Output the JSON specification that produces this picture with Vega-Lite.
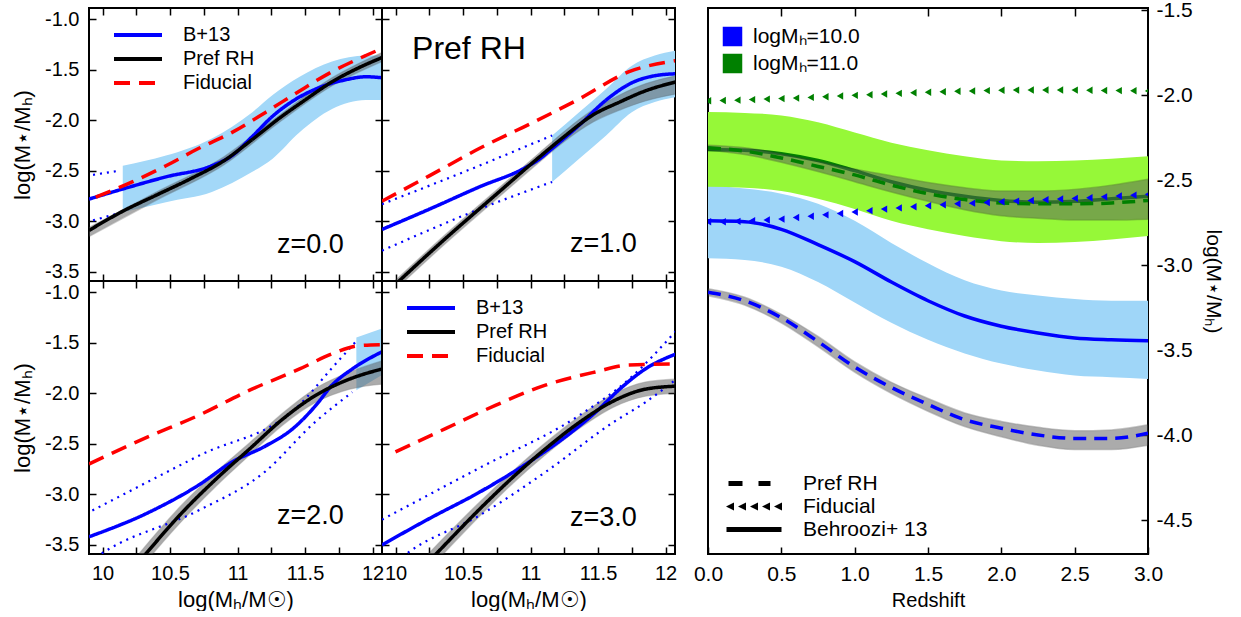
{
  "$schema": "https://vega.github.io/schema/vega-lite/v6.json",
  "padding": {"left": 10, "top": -2, "right": 0, "bottom": 0},
  "config": {
    "font": "Liberation Sans",
    "view": {"stroke": "#000", "strokeWidth": 2},
    "axis": {"domain": false, "grid": false, "ticks": true, "tickColor": "#000", "tickWidth": 1.5, "tickSize": -7, "labelPadding": 17, "labelFontSize": 20, "labelColor": "#000", "titleFontSize": 22, "titleColor": "#000", "titleFontWeight": "normal", "labelFlush": false, "labelOverlap": false},
    "legend": {"labelFontSize": 20, "labelColor": "#000", "symbolOpacity": 1}
  },
  "datasets": {
    "lines": [
      {"p":"z0","s":"B+13","x":9.9,"y":-2.78},{"p":"z0","s":"B+13","x":10.15,"y":-2.68},{"p":"z0","s":"B+13","x":10.47,"y":-2.56},{"p":"z0","s":"B+13","x":10.81,"y":-2.45},{"p":"z0","s":"B+13","x":10.96,"y":-2.35},{"p":"z0","s":"B+13","x":11.11,"y":-2.16},{"p":"z0","s":"B+13","x":11.26,"y":-1.96},{"p":"z0","s":"B+13","x":11.41,"y":-1.81},{"p":"z0","s":"B+13","x":11.6,"y":-1.68},{"p":"z0","s":"B+13","x":11.8,"y":-1.6},{"p":"z0","s":"B+13","x":11.95,"y":-1.57},{"p":"z0","s":"B+13","x":12.07,"y":-1.58},
      {"p":"z0","s":"Pref RH","x":9.9,"y":-3.09},{"p":"z0","s":"Pref RH","x":10.15,"y":-2.9},{"p":"z0","s":"Pref RH","x":10.4,"y":-2.74},{"p":"z0","s":"Pref RH","x":10.65,"y":-2.58},{"p":"z0","s":"Pref RH","x":10.9,"y":-2.4},{"p":"z0","s":"Pref RH","x":11.1,"y":-2.2},{"p":"z0","s":"Pref RH","x":11.3,"y":-1.99},{"p":"z0","s":"Pref RH","x":11.5,"y":-1.8},{"p":"z0","s":"Pref RH","x":11.7,"y":-1.62},{"p":"z0","s":"Pref RH","x":11.9,"y":-1.48},{"p":"z0","s":"Pref RH","x":12.07,"y":-1.38},
      {"p":"z0","s":"Fiducial","x":9.95,"y":-2.76},{"p":"z0","s":"Fiducial","x":10.22,"y":-2.61},{"p":"z0","s":"Fiducial","x":10.47,"y":-2.45},{"p":"z0","s":"Fiducial","x":10.71,"y":-2.28},{"p":"z0","s":"Fiducial","x":10.96,"y":-2.12},{"p":"z0","s":"Fiducial","x":11.21,"y":-1.92},{"p":"z0","s":"Fiducial","x":11.46,"y":-1.71},{"p":"z0","s":"Fiducial","x":11.7,"y":-1.52},{"p":"z0","s":"Fiducial","x":11.95,"y":-1.36},{"p":"z0","s":"Fiducial","x":12.07,"y":-1.29},
      {"p":"z1","s":"B+13","x":9.9,"y":-3.08},{"p":"z1","s":"B+13","x":10.25,"y":-2.88},{"p":"z1","s":"B+13","x":10.62,"y":-2.66},{"p":"z1","s":"B+13","x":10.96,"y":-2.47},{"p":"z1","s":"B+13","x":11.06,"y":-2.39},{"p":"z1","s":"B+13","x":11.16,"y":-2.28},{"p":"z1","s":"B+13","x":11.36,"y":-2.05},{"p":"z1","s":"B+13","x":11.56,"y":-1.8},{"p":"z1","s":"B+13","x":11.75,"y":-1.63},{"p":"z1","s":"B+13","x":11.92,"y":-1.56},{"p":"z1","s":"B+13","x":12.08,"y":-1.54},
      {"p":"z1","s":"Pref RH","x":9.97,"y":-3.66},{"p":"z1","s":"Pref RH","x":10.37,"y":-3.17},{"p":"z1","s":"Pref RH","x":10.74,"y":-2.74},{"p":"z1","s":"Pref RH","x":11.06,"y":-2.37},{"p":"z1","s":"Pref RH","x":11.26,"y":-2.15},{"p":"z1","s":"Pref RH","x":11.46,"y":-1.95},{"p":"z1","s":"Pref RH","x":11.66,"y":-1.82},{"p":"z1","s":"Pref RH","x":11.85,"y":-1.71},{"p":"z1","s":"Pref RH","x":12.08,"y":-1.62},
      {"p":"z1","s":"Fiducial","x":9.9,"y":-2.8},{"p":"z1","s":"Fiducial","x":10.25,"y":-2.55},{"p":"z1","s":"Fiducial","x":10.62,"y":-2.28},{"p":"z1","s":"Fiducial","x":10.99,"y":-2.04},{"p":"z1","s":"Fiducial","x":11.36,"y":-1.79},{"p":"z1","s":"Fiducial","x":11.73,"y":-1.52},{"p":"z1","s":"Fiducial","x":12.08,"y":-1.41},
      {"p":"z2","s":"B+13","x":9.9,"y":-3.42},{"p":"z2","s":"B+13","x":10.34,"y":-3.18},{"p":"z2","s":"B+13","x":10.71,"y":-2.91},{"p":"z2","s":"B+13","x":10.96,"y":-2.68},{"p":"z2","s":"B+13","x":11.21,"y":-2.52},{"p":"z2","s":"B+13","x":11.41,"y":-2.35},{"p":"z2","s":"B+13","x":11.58,"y":-2.12},{"p":"z2","s":"B+13","x":11.7,"y":-1.92},{"p":"z2","s":"B+13","x":11.85,"y":-1.76},{"p":"z2","s":"B+13","x":12.07,"y":-1.59},
      {"p":"z2","s":"Pref RH","x":10.25,"y":-3.7},{"p":"z2","s":"Pref RH","x":10.32,"y":-3.59},{"p":"z2","s":"Pref RH","x":10.59,"y":-3.18},{"p":"z2","s":"Pref RH","x":10.84,"y":-2.85},{"p":"z2","s":"Pref RH","x":11.09,"y":-2.55},{"p":"z2","s":"Pref RH","x":11.34,"y":-2.25},{"p":"z2","s":"Pref RH","x":11.58,"y":-2.02},{"p":"z2","s":"Pref RH","x":11.83,"y":-1.86},{"p":"z2","s":"Pref RH","x":12.07,"y":-1.76},
      {"p":"z2","s":"Fiducial","x":9.9,"y":-2.7},{"p":"z2","s":"Fiducial","x":10.34,"y":-2.43},{"p":"z2","s":"Fiducial","x":10.71,"y":-2.22},{"p":"z2","s":"Fiducial","x":11.09,"y":-1.97},{"p":"z2","s":"Fiducial","x":11.46,"y":-1.76},{"p":"z2","s":"Fiducial","x":11.7,"y":-1.61},{"p":"z2","s":"Fiducial","x":11.9,"y":-1.53},{"p":"z2","s":"Fiducial","x":12.07,"y":-1.52},
      {"p":"z3","s":"B+13","x":9.9,"y":-3.5},{"p":"z3","s":"B+13","x":10.25,"y":-3.24},{"p":"z3","s":"B+13","x":10.62,"y":-2.98},{"p":"z3","s":"B+13","x":10.99,"y":-2.68},{"p":"z3","s":"B+13","x":11.24,"y":-2.45},{"p":"z3","s":"B+13","x":11.48,"y":-2.19},{"p":"z3","s":"B+13","x":11.66,"y":-1.96},{"p":"z3","s":"B+13","x":11.85,"y":-1.76},{"p":"z3","s":"B+13","x":12.08,"y":-1.61},
      {"p":"z3","s":"Pref RH","x":10.22,"y":-3.7},{"p":"z3","s":"Pref RH","x":10.3,"y":-3.59},{"p":"z3","s":"Pref RH","x":10.62,"y":-3.15},{"p":"z3","s":"Pref RH","x":10.87,"y":-2.83},{"p":"z3","s":"Pref RH","x":11.11,"y":-2.55},{"p":"z3","s":"Pref RH","x":11.36,"y":-2.29},{"p":"z3","s":"Pref RH","x":11.61,"y":-2.08},{"p":"z3","s":"Pref RH","x":11.85,"y":-1.96},{"p":"z3","s":"Pref RH","x":12.08,"y":-1.93},
      {"p":"z3","s":"Fiducial","x":10.0,"y":-2.58},{"p":"z3","s":"Fiducial","x":10.37,"y":-2.35},{"p":"z3","s":"Fiducial","x":10.74,"y":-2.12},{"p":"z3","s":"Fiducial","x":11.11,"y":-1.92},{"p":"z3","s":"Fiducial","x":11.48,"y":-1.79},{"p":"z3","s":"Fiducial","x":11.73,"y":-1.72},{"p":"z3","s":"Fiducial","x":12.08,"y":-1.71}
    ],
    "dots": [
      {"p":"z0","s":"hi","x":9.93,"y":-2.54},{"p":"z0","s":"hi","x":10.12,"y":-2.5},
      {"p":"z0","s":"lo","x":9.93,"y":-2.99},{"p":"z0","s":"lo","x":10.12,"y":-2.92},
      {"p":"z1","s":"hi","x":9.9,"y":-2.83},{"p":"z1","s":"hi","x":10.62,"y":-2.45},{"p":"z1","s":"hi","x":11.16,"y":-2.15},
      {"p":"z1","s":"lo","x":9.9,"y":-3.29},{"p":"z1","s":"lo","x":10.62,"y":-2.88},{"p":"z1","s":"lo","x":11.16,"y":-2.61},
      {"p":"z2","s":"hi","x":9.925,"y":-3.16},{"p":"z2","s":"hi","x":10.71,"y":-2.62},{"p":"z2","s":"hi","x":11.456,"y":-2.12},{"p":"z2","s":"hi","x":11.7,"y":-1.75},{"p":"z2","s":"hi","x":11.876,"y":-1.49},
      {"p":"z2","s":"lo","x":9.95,"y":-3.62},{"p":"z2","s":"lo","x":10.048,"y":-3.54},{"p":"z2","s":"lo","x":10.71,"y":-3.16},{"p":"z2","s":"lo","x":11.2,"y":-2.78},{"p":"z2","s":"lo","x":11.57,"y":-2.29},{"p":"z2","s":"lo","x":11.85,"y":-1.99},
      {"p":"z3","s":"hi","x":9.9,"y":-3.25},{"p":"z3","s":"hi","x":10.62,"y":-2.74},{"p":"z3","s":"hi","x":11.36,"y":-2.22},{"p":"z3","s":"hi","x":11.73,"y":-1.86},{"p":"z3","s":"hi","x":12.08,"y":-1.38},
      {"p":"z3","s":"lo","x":10.05,"y":-3.62},{"p":"z3","s":"lo","x":10.1,"y":-3.57},{"p":"z3","s":"lo","x":10.62,"y":-3.21},{"p":"z3","s":"lo","x":11.11,"y":-2.78},{"p":"z3","s":"lo","x":11.61,"y":-2.29},{"p":"z3","s":"lo","x":11.85,"y":-2.09},{"p":"z3","s":"lo","x":12.08,"y":-1.86}
    ],
    "bands": [
      {"p":"z0","s":"B+13","x":10.15,"lo":-2.91,"hi":-2.45},{"p":"z0","s":"B+13","x":10.47,"lo":-2.81,"hi":-2.35},{"p":"z0","s":"B+13","x":10.81,"lo":-2.71,"hi":-2.18},{"p":"z0","s":"B+13","x":11.11,"lo":-2.51,"hi":-1.92},{"p":"z0","s":"B+13","x":11.26,"lo":-2.38,"hi":-1.75},{"p":"z0","s":"B+13","x":11.46,"lo":-2.12,"hi":-1.57},{"p":"z0","s":"B+13","x":11.7,"lo":-1.89,"hi":-1.42},{"p":"z0","s":"B+13","x":11.95,"lo":-1.8,"hi":-1.36},{"p":"z0","s":"B+13","x":12.07,"lo":-1.8,"hi":-1.36},
      {"p":"z0","s":"Pref RH","x":9.9,"lo":-3.15,"hi":-3.06},{"p":"z0","s":"Pref RH","x":10.4,"lo":-2.79,"hi":-2.71},{"p":"z0","s":"Pref RH","x":10.9,"lo":-2.44,"hi":-2.36},{"p":"z0","s":"Pref RH","x":11.3,"lo":-2.03,"hi":-1.96},{"p":"z0","s":"Pref RH","x":11.7,"lo":-1.66,"hi":-1.58},{"p":"z0","s":"Pref RH","x":12.07,"lo":-1.42,"hi":-1.33},
      {"p":"z1","s":"B+13","x":11.16,"lo":-2.61,"hi":-2.15},{"p":"z1","s":"B+13","x":11.36,"lo":-2.38,"hi":-1.92},{"p":"z1","s":"B+13","x":11.56,"lo":-2.15,"hi":-1.69},{"p":"z1","s":"B+13","x":11.75,"lo":-1.92,"hi":-1.46},{"p":"z1","s":"B+13","x":11.92,"lo":-1.82,"hi":-1.36},{"p":"z1","s":"B+13","x":12.08,"lo":-1.77,"hi":-1.31},
      {"p":"z1","s":"Pref RH","x":9.97,"lo":-3.71,"hi":-3.62},{"p":"z1","s":"Pref RH","x":10.37,"lo":-3.22,"hi":-3.13},{"p":"z1","s":"Pref RH","x":10.74,"lo":-2.79,"hi":-2.7},{"p":"z1","s":"Pref RH","x":11.06,"lo":-2.42,"hi":-2.33},{"p":"z1","s":"Pref RH","x":11.26,"lo":-2.2,"hi":-2.1},{"p":"z1","s":"Pref RH","x":11.46,"lo":-2.02,"hi":-1.9},{"p":"z1","s":"Pref RH","x":11.66,"lo":-1.9,"hi":-1.75},{"p":"z1","s":"Pref RH","x":11.85,"lo":-1.81,"hi":-1.64},{"p":"z1","s":"Pref RH","x":12.08,"lo":-1.74,"hi":-1.56},
      {"p":"z2","s":"B+13","x":11.88,"lo":-1.97,"hi":-1.45},{"p":"z2","s":"B+13","x":12.07,"lo":-1.82,"hi":-1.36},
      {"p":"z2","s":"Pref RH","x":10.25,"lo":-3.78,"hi":-3.62},{"p":"z2","s":"Pref RH","x":10.59,"lo":-3.26,"hi":-3.1},{"p":"z2","s":"Pref RH","x":10.84,"lo":-2.92,"hi":-2.78},{"p":"z2","s":"Pref RH","x":11.09,"lo":-2.61,"hi":-2.49},{"p":"z2","s":"Pref RH","x":11.34,"lo":-2.31,"hi":-2.19},{"p":"z2","s":"Pref RH","x":11.58,"lo":-2.09,"hi":-1.95},{"p":"z2","s":"Pref RH","x":11.83,"lo":-1.96,"hi":-1.79},{"p":"z2","s":"Pref RH","x":12.07,"lo":-1.91,"hi":-1.68},
      {"p":"z3","s":"Pref RH","x":10.22,"lo":-3.78,"hi":-3.62},{"p":"z3","s":"Pref RH","x":10.62,"lo":-3.22,"hi":-3.08},{"p":"z3","s":"Pref RH","x":10.87,"lo":-2.89,"hi":-2.77},{"p":"z3","s":"Pref RH","x":11.11,"lo":-2.61,"hi":-2.49},{"p":"z3","s":"Pref RH","x":11.36,"lo":-2.35,"hi":-2.23},{"p":"z3","s":"Pref RH","x":11.61,"lo":-2.14,"hi":-2.01},{"p":"z3","s":"Pref RH","x":11.85,"lo":-2.03,"hi":-1.89},{"p":"z3","s":"Pref RH","x":12.08,"lo":-2.0,"hi":-1.86}
    ],
    "ann": [
      {"p":"z0","x":11.54,"y":-3.23,"t":"z=0.0"},
      {"p":"z1","x":11.54,"y":-3.22,"t":"z=1.0"},
      {"p":"z2","x":11.54,"y":-3.21,"t":"z=2.0"},
      {"p":"z3","x":11.54,"y":-3.23,"t":"z=3.0"}
    ],
    "title": [
      {"p":"z1","x":10.544,"y":-1.296,"t":"Pref RH"}
    ],
    "zl": [
      {"m":"logMₕ=10.0","s":"Behroozi+ 13","z":0,"y":-2.74},{"m":"logMₕ=10.0","s":"Behroozi+ 13","z":0.25,"y":-2.745},{"m":"logMₕ=10.0","s":"Behroozi+ 13","z":0.5,"y":-2.79},{"m":"logMₕ=10.0","s":"Behroozi+ 13","z":0.75,"y":-2.88},{"m":"logMₕ=10.0","s":"Behroozi+ 13","z":1.0,"y":-2.98},{"m":"logMₕ=10.0","s":"Behroozi+ 13","z":1.25,"y":-3.1},{"m":"logMₕ=10.0","s":"Behroozi+ 13","z":1.5,"y":-3.21},{"m":"logMₕ=10.0","s":"Behroozi+ 13","z":1.75,"y":-3.3},{"m":"logMₕ=10.0","s":"Behroozi+ 13","z":2.0,"y":-3.36},{"m":"logMₕ=10.0","s":"Behroozi+ 13","z":2.25,"y":-3.4},{"m":"logMₕ=10.0","s":"Behroozi+ 13","z":2.5,"y":-3.43},{"m":"logMₕ=10.0","s":"Behroozi+ 13","z":2.75,"y":-3.44},{"m":"logMₕ=10.0","s":"Behroozi+ 13","z":3.0,"y":-3.445},
      {"m":"logMₕ=10.0","s":"Pref RH","z":0,"y":-3.16},{"m":"logMₕ=10.0","s":"Pref RH","z":0.25,"y":-3.21},{"m":"logMₕ=10.0","s":"Pref RH","z":0.5,"y":-3.31},{"m":"logMₕ=10.0","s":"Pref RH","z":0.75,"y":-3.45},{"m":"logMₕ=10.0","s":"Pref RH","z":1.0,"y":-3.6},{"m":"logMₕ=10.0","s":"Pref RH","z":1.25,"y":-3.72},{"m":"logMₕ=10.0","s":"Pref RH","z":1.5,"y":-3.82},{"m":"logMₕ=10.0","s":"Pref RH","z":1.75,"y":-3.91},{"m":"logMₕ=10.0","s":"Pref RH","z":2.0,"y":-3.96},{"m":"logMₕ=10.0","s":"Pref RH","z":2.25,"y":-4.0},{"m":"logMₕ=10.0","s":"Pref RH","z":2.5,"y":-4.02},{"m":"logMₕ=10.0","s":"Pref RH","z":2.75,"y":-4.02},{"m":"logMₕ=10.0","s":"Pref RH","z":3.0,"y":-3.99},
      {"m":"logMₕ=11.0","s":"Behroozi+ 13","z":0,"y":-2.32},{"m":"logMₕ=11.0","s":"Behroozi+ 13","z":0.25,"y":-2.325},{"m":"logMₕ=11.0","s":"Behroozi+ 13","z":0.5,"y":-2.345},{"m":"logMₕ=11.0","s":"Behroozi+ 13","z":0.75,"y":-2.385},{"m":"logMₕ=11.0","s":"Behroozi+ 13","z":1.0,"y":-2.445},{"m":"logMₕ=11.0","s":"Behroozi+ 13","z":1.25,"y":-2.51},{"m":"logMₕ=11.0","s":"Behroozi+ 13","z":1.5,"y":-2.56},{"m":"logMₕ=11.0","s":"Behroozi+ 13","z":1.75,"y":-2.595},{"m":"logMₕ=11.0","s":"Behroozi+ 13","z":2.0,"y":-2.62},{"m":"logMₕ=11.0","s":"Behroozi+ 13","z":2.25,"y":-2.63},{"m":"logMₕ=11.0","s":"Behroozi+ 13","z":2.5,"y":-2.625},{"m":"logMₕ=11.0","s":"Behroozi+ 13","z":2.75,"y":-2.61},{"m":"logMₕ=11.0","s":"Behroozi+ 13","z":3.0,"y":-2.595},
      {"m":"logMₕ=11.0","s":"Pref RH","z":0,"y":-2.31},{"m":"logMₕ=11.0","s":"Pref RH","z":0.25,"y":-2.33},{"m":"logMₕ=11.0","s":"Pref RH","z":0.5,"y":-2.37},{"m":"logMₕ=11.0","s":"Pref RH","z":0.75,"y":-2.42},{"m":"logMₕ=11.0","s":"Pref RH","z":1.0,"y":-2.47},{"m":"logMₕ=11.0","s":"Pref RH","z":1.25,"y":-2.53},{"m":"logMₕ=11.0","s":"Pref RH","z":1.5,"y":-2.58},{"m":"logMₕ=11.0","s":"Pref RH","z":1.75,"y":-2.615},{"m":"logMₕ=11.0","s":"Pref RH","z":2.0,"y":-2.635},{"m":"logMₕ=11.0","s":"Pref RH","z":2.25,"y":-2.64},{"m":"logMₕ=11.0","s":"Pref RH","z":2.5,"y":-2.64},{"m":"logMₕ=11.0","s":"Pref RH","z":2.75,"y":-2.635},{"m":"logMₕ=11.0","s":"Pref RH","z":3.0,"y":-2.62}
    ],
    "zb": [
      {"m":"logMₕ=10.0","s":"Behroozi+ 13","z":0,"lo":-2.96,"hi":-2.53},{"m":"logMₕ=10.0","s":"Behroozi+ 13","z":0.25,"lo":-2.97,"hi":-2.55},{"m":"logMₕ=10.0","s":"Behroozi+ 13","z":0.5,"lo":-3.01,"hi":-2.58},{"m":"logMₕ=10.0","s":"Behroozi+ 13","z":0.75,"lo":-3.1,"hi":-2.64},{"m":"logMₕ=10.0","s":"Behroozi+ 13","z":1.0,"lo":-3.22,"hi":-2.74},{"m":"logMₕ=10.0","s":"Behroozi+ 13","z":1.25,"lo":-3.34,"hi":-2.87},{"m":"logMₕ=10.0","s":"Behroozi+ 13","z":1.5,"lo":-3.44,"hi":-2.99},{"m":"logMₕ=10.0","s":"Behroozi+ 13","z":1.75,"lo":-3.52,"hi":-3.09},{"m":"logMₕ=10.0","s":"Behroozi+ 13","z":2.0,"lo":-3.58,"hi":-3.15},{"m":"logMₕ=10.0","s":"Behroozi+ 13","z":2.25,"lo":-3.62,"hi":-3.18},{"m":"logMₕ=10.0","s":"Behroozi+ 13","z":2.5,"lo":-3.65,"hi":-3.2},{"m":"logMₕ=10.0","s":"Behroozi+ 13","z":2.75,"lo":-3.66,"hi":-3.21},{"m":"logMₕ=10.0","s":"Behroozi+ 13","z":3.0,"lo":-3.67,"hi":-3.21},
      {"m":"logMₕ=11.0","s":"Behroozi+ 13","z":0,"lo":-2.54,"hi":-2.1},{"m":"logMₕ=11.0","s":"Behroozi+ 13","z":0.25,"lo":-2.545,"hi":-2.105},{"m":"logMₕ=11.0","s":"Behroozi+ 13","z":0.5,"lo":-2.565,"hi":-2.12},{"m":"logMₕ=11.0","s":"Behroozi+ 13","z":0.75,"lo":-2.61,"hi":-2.16},{"m":"logMₕ=11.0","s":"Behroozi+ 13","z":1.0,"lo":-2.67,"hi":-2.22},{"m":"logMₕ=11.0","s":"Behroozi+ 13","z":1.25,"lo":-2.74,"hi":-2.28},{"m":"logMₕ=11.0","s":"Behroozi+ 13","z":1.5,"lo":-2.79,"hi":-2.325},{"m":"logMₕ=11.0","s":"Behroozi+ 13","z":1.75,"lo":-2.83,"hi":-2.36},{"m":"logMₕ=11.0","s":"Behroozi+ 13","z":2.0,"lo":-2.86,"hi":-2.385},{"m":"logMₕ=11.0","s":"Behroozi+ 13","z":2.25,"lo":-2.87,"hi":-2.39},{"m":"logMₕ=11.0","s":"Behroozi+ 13","z":2.5,"lo":-2.865,"hi":-2.385},{"m":"logMₕ=11.0","s":"Behroozi+ 13","z":2.75,"lo":-2.85,"hi":-2.375},{"m":"logMₕ=11.0","s":"Behroozi+ 13","z":3.0,"lo":-2.83,"hi":-2.36},
      {"m":"logMₕ=10.0","s":"Pref RH","z":0,"lo":-3.18,"hi":-3.14},{"m":"logMₕ=10.0","s":"Pref RH","z":0.25,"lo":-3.235,"hi":-3.19},{"m":"logMₕ=10.0","s":"Pref RH","z":0.5,"lo":-3.34,"hi":-3.29},{"m":"logMₕ=10.0","s":"Pref RH","z":0.75,"lo":-3.48,"hi":-3.42},{"m":"logMₕ=10.0","s":"Pref RH","z":1.0,"lo":-3.63,"hi":-3.57},{"m":"logMₕ=10.0","s":"Pref RH","z":1.25,"lo":-3.755,"hi":-3.69},{"m":"logMₕ=10.0","s":"Pref RH","z":1.5,"lo":-3.86,"hi":-3.785},{"m":"logMₕ=10.0","s":"Pref RH","z":1.75,"lo":-3.95,"hi":-3.87},{"m":"logMₕ=10.0","s":"Pref RH","z":2.0,"lo":-4.01,"hi":-3.92},{"m":"logMₕ=10.0","s":"Pref RH","z":2.25,"lo":-4.06,"hi":-3.955},{"m":"logMₕ=10.0","s":"Pref RH","z":2.5,"lo":-4.085,"hi":-3.975},{"m":"logMₕ=10.0","s":"Pref RH","z":2.75,"lo":-4.085,"hi":-3.97},{"m":"logMₕ=10.0","s":"Pref RH","z":3.0,"lo":-4.06,"hi":-3.94},
      {"m":"logMₕ=11.0","s":"Pref RH","z":0,"lo":-2.325,"hi":-2.295},{"m":"logMₕ=11.0","s":"Pref RH","z":0.25,"lo":-2.35,"hi":-2.31},{"m":"logMₕ=11.0","s":"Pref RH","z":0.5,"lo":-2.395,"hi":-2.345},{"m":"logMₕ=11.0","s":"Pref RH","z":0.75,"lo":-2.45,"hi":-2.39},{"m":"logMₕ=11.0","s":"Pref RH","z":1.0,"lo":-2.51,"hi":-2.435},{"m":"logMₕ=11.0","s":"Pref RH","z":1.25,"lo":-2.57,"hi":-2.475},{"m":"logMₕ=11.0","s":"Pref RH","z":1.5,"lo":-2.625,"hi":-2.515},{"m":"logMₕ=11.0","s":"Pref RH","z":1.75,"lo":-2.675,"hi":-2.545},{"m":"logMₕ=11.0","s":"Pref RH","z":2.0,"lo":-2.71,"hi":-2.565},{"m":"logMₕ=11.0","s":"Pref RH","z":2.25,"lo":-2.725,"hi":-2.565},{"m":"logMₕ=11.0","s":"Pref RH","z":2.5,"lo":-2.735,"hi":-2.555},{"m":"logMₕ=11.0","s":"Pref RH","z":2.75,"lo":-2.735,"hi":-2.53},{"m":"logMₕ=11.0","s":"Pref RH","z":3.0,"lo":-2.73,"hi":-2.495}
    ],
    "zf": [
      {"m":"logMₕ=10.0","z":0.0,"y":-2.745},{"m":"logMₕ=10.0","z":0.1,"y":-2.745},{"m":"logMₕ=10.0","z":0.2,"y":-2.743},{"m":"logMₕ=10.0","z":0.3,"y":-2.74},{"m":"logMₕ=10.0","z":0.4,"y":-2.735},{"m":"logMₕ=10.0","z":0.5,"y":-2.73},{"m":"logMₕ=10.0","z":0.6,"y":-2.72},{"m":"logMₕ=10.0","z":0.7,"y":-2.713},{"m":"logMₕ=10.0","z":0.8,"y":-2.705},{"m":"logMₕ=10.0","z":0.9,"y":-2.697},{"m":"logMₕ=10.0","z":1.0,"y":-2.688},{"m":"logMₕ=10.0","z":1.1,"y":-2.68},{"m":"logMₕ=10.0","z":1.2,"y":-2.671},{"m":"logMₕ=10.0","z":1.3,"y":-2.664},{"m":"logMₕ=10.0","z":1.4,"y":-2.657},{"m":"logMₕ=10.0","z":1.5,"y":-2.651},{"m":"logMₕ=10.0","z":1.6,"y":-2.645},{"m":"logMₕ=10.0","z":1.7,"y":-2.64},{"m":"logMₕ=10.0","z":1.8,"y":-2.636},{"m":"logMₕ=10.0","z":1.9,"y":-2.632},{"m":"logMₕ=10.0","z":2.0,"y":-2.628},{"m":"logMₕ=10.0","z":2.1,"y":-2.624},{"m":"logMₕ=10.0","z":2.2,"y":-2.62},{"m":"logMₕ=10.0","z":2.3,"y":-2.616},{"m":"logMₕ=10.0","z":2.4,"y":-2.612},{"m":"logMₕ=10.0","z":2.5,"y":-2.608},{"m":"logMₕ=10.0","z":2.6,"y":-2.604},{"m":"logMₕ=10.0","z":2.7,"y":-2.599},{"m":"logMₕ=10.0","z":2.8,"y":-2.594},{"m":"logMₕ=10.0","z":2.9,"y":-2.589},{"m":"logMₕ=10.0","z":3.0,"y":-2.584},
      {"m":"logMₕ=11.0","z":0.0,"y":-2.034},{"m":"logMₕ=11.0","z":0.1,"y":-2.032},{"m":"logMₕ=11.0","z":0.2,"y":-2.03},{"m":"logMₕ=11.0","z":0.3,"y":-2.027},{"m":"logMₕ=11.0","z":0.4,"y":-2.024},{"m":"logMₕ=11.0","z":0.5,"y":-2.021},{"m":"logMₕ=11.0","z":0.6,"y":-2.018},{"m":"logMₕ=11.0","z":0.7,"y":-2.014},{"m":"logMₕ=11.0","z":0.8,"y":-2.01},{"m":"logMₕ=11.0","z":0.9,"y":-2.006},{"m":"logMₕ=11.0","z":1.0,"y":-2.002},{"m":"logMₕ=11.0","z":1.1,"y":-1.998},{"m":"logMₕ=11.0","z":1.2,"y":-1.994},{"m":"logMₕ=11.0","z":1.3,"y":-1.99},{"m":"logMₕ=11.0","z":1.4,"y":-1.987},{"m":"logMₕ=11.0","z":1.5,"y":-1.984},{"m":"logMₕ=11.0","z":1.6,"y":-1.981},{"m":"logMₕ=11.0","z":1.7,"y":-1.978},{"m":"logMₕ=11.0","z":1.8,"y":-1.976},{"m":"logMₕ=11.0","z":1.9,"y":-1.974},{"m":"logMₕ=11.0","z":2.0,"y":-1.972},{"m":"logMₕ=11.0","z":2.1,"y":-1.971},{"m":"logMₕ=11.0","z":2.2,"y":-1.97},{"m":"logMₕ=11.0","z":2.3,"y":-1.97},{"m":"logMₕ=11.0","z":2.4,"y":-1.97},{"m":"logMₕ=11.0","z":2.5,"y":-1.971},{"m":"logMₕ=11.0","z":2.6,"y":-1.972},{"m":"logMₕ=11.0","z":2.7,"y":-1.973},{"m":"logMₕ=11.0","z":2.8,"y":-1.974},{"m":"logMₕ=11.0","z":2.9,"y":-1.975},{"m":"logMₕ=11.0","z":3.0,"y":-1.976}
    ]
  },
  "resolve": {"scale": {"color": "independent", "strokeDash": "independent", "shape": "independent"}, "legend": {"color": "independent", "strokeDash": "independent", "shape": "independent"}},
  "spacing": 14,
  "hconcat": [
    {
      "columns": 2,
      "spacing": 0,
      "bounds": "flush",
      "resolve": {"scale": {"color": "independent", "strokeDash": "independent"}, "legend": {"color": "independent", "strokeDash": "independent"}},
      "concat": [
        {
          "width": 293, "height": 273,
          "resolve": {"axis": {"x": "independent", "y": "independent"}},
          "layer": [
            {"data": {"name": "bands"}, "transform": [{"filter": "datum.p == 'z0' && datum.s == 'B+13'"}],
             "mark": {"type": "area", "color": "#a3d8f8", "clip": true, "interpolate": "monotone"},
             "encoding": {"x": {"field": "x", "type": "quantitative", "scale": {"domain": [9.9, 12.07], "nice": false, "zero": false}, "axis": null},
                          "y": {"field": "lo", "type": "quantitative", "scale": {"domain": [-3.59, -0.89], "nice": false, "zero": false}, "axis": null},
                          "y2": {"field": "hi"}}},
            {"data": {"name": "bands"}, "transform": [{"filter": "datum.p == 'z0' && datum.s == 'Pref RH'"}],
             "mark": {"type": "area", "color": "#5a5a5a", "opacity": 0.5, "stroke": "#303030", "strokeOpacity": 0.5, "strokeWidth": 1.2, "clip": true, "interpolate": "monotone"},
             "encoding": {"x": {"field": "x", "type": "quantitative", "scale": {"domain": [9.9, 12.07], "nice": false, "zero": false}, "axis": {"orient": "top", "labels": false, "title": null, "values": [10, 10.25, 10.5, 10.75, 11, 11.25, 11.5, 11.75, 12]}},
                          "y": {"field": "lo", "type": "quantitative", "scale": {"domain": [-3.59, -0.89], "nice": false, "zero": false}, "axis": {"orient": "right", "labels": false, "title": null, "values": [-1, -1.5, -2, -2.5, -3, -3.5]}},
                          "y2": {"field": "hi"}}},
            {"data": {"name": "dots"}, "transform": [{"filter": "datum.p == 'z0'"}],
             "mark": {"type": "line", "color": "#0000ff", "strokeDash": [2, 5], "strokeWidth": 2.2, "clip": true, "interpolate": "monotone"},
             "encoding": {"x": {"field": "x", "type": "quantitative", "scale": {"domain": [9.9, 12.07], "nice": false, "zero": false}, "axis": null},
                          "y": {"field": "y", "type": "quantitative", "scale": {"domain": [-3.59, -0.89], "nice": false, "zero": false}, "axis": null},
                          "detail": {"field": "s"}}},
            {"data": {"name": "lines"}, "transform": [{"filter": "datum.p == 'z0'"}],
             "mark": {"type": "line", "strokeWidth": 3.5, "clip": true, "interpolate": "monotone"},
             "encoding": {"x": {"field": "x", "type": "quantitative", "scale": {"domain": [9.9, 12.07], "nice": false, "zero": false}, "axis": {"orient": "bottom", "labels": false, "title": null, "values": [10, 10.25, 10.5, 10.75, 11, 11.25, 11.5, 11.75, 12]}},
                          "y": {"field": "y", "type": "quantitative", "scale": {"domain": [-3.59, -0.89], "nice": false, "zero": false}, "axis": {"orient": "left", "values": [-1, -1.5, -2, -2.5, -3, -3.5], "format": ".1f", "labelExpr": "replace(datum.label, '−', '-')", "title": "log(M⋆/Mₕ)", "titlePadding": 10}},
                          "color": {"field": "s", "type": "nominal", "scale": {"domain": ["B+13", "Pref RH", "Fiducial"], "range": ["#0000ff", "#000000", "#ff0000"]},
                                    "legend": {"title": null, "orient": "top-left", "offset": 17, "padding": 0, "symbolType": "M-0.25,0H5.75", "symbolSize": 256, "symbolStrokeWidth": 4, "labelOffset": 57, "rowPadding": 4, "labelFontSize": 20}},
                          "strokeDash": {"field": "s", "type": "nominal", "scale": {"domain": ["B+13", "Pref RH", "Fiducial"], "range": [[1, 0], [1, 0], [16, 9]]},
                                    "legend": {"title": null, "orient": "top-left", "offset": 17, "padding": 0, "symbolType": "M-0.25,0H5.75", "symbolSize": 256, "symbolStrokeWidth": 4, "labelOffset": 57, "rowPadding": 4, "labelFontSize": 20}}}},
            {"data": {"name": "ann"}, "transform": [{"filter": "datum.p == 'z0'"}],
             "mark": {"type": "text", "fontSize": 27, "align": "center", "baseline": "middle", "color": "#000"},
             "encoding": {"x": {"field": "x", "type": "quantitative", "scale": {"domain": [9.9, 12.07], "nice": false, "zero": false}, "axis": null},
                          "y": {"field": "y", "type": "quantitative", "scale": {"domain": [-3.59, -0.89], "nice": false, "zero": false}, "axis": null},
                          "text": {"field": "t"}}}
          ]
        },
        {
          "width": 293, "height": 273,
          "resolve": {"axis": {"x": "independent", "y": "independent"}},
          "layer": [
            {"data": {"name": "bands"}, "transform": [{"filter": "datum.p == 'z1' && datum.s == 'B+13'"}],
             "mark": {"type": "area", "color": "#a3d8f8", "clip": true, "interpolate": "monotone"},
             "encoding": {"x": {"field": "x", "type": "quantitative", "scale": {"domain": [9.9, 12.07], "nice": false, "zero": false}, "axis": null},
                          "y": {"field": "lo", "type": "quantitative", "scale": {"domain": [-3.59, -0.89], "nice": false, "zero": false}, "axis": null},
                          "y2": {"field": "hi"}}},
            {"data": {"name": "bands"}, "transform": [{"filter": "datum.p == 'z1' && datum.s == 'Pref RH'"}],
             "mark": {"type": "area", "color": "#5a5a5a", "opacity": 0.5, "stroke": "#303030", "strokeOpacity": 0.5, "strokeWidth": 1.2, "clip": true, "interpolate": "monotone"},
             "encoding": {"x": {"field": "x", "type": "quantitative", "scale": {"domain": [9.9, 12.07], "nice": false, "zero": false}, "axis": {"orient": "top", "labels": false, "title": null, "values": [10, 10.25, 10.5, 10.75, 11, 11.25, 11.5, 11.75, 12]}},
                          "y": {"field": "lo", "type": "quantitative", "scale": {"domain": [-3.59, -0.89], "nice": false, "zero": false}, "axis": {"orient": "right", "labels": false, "title": null, "values": [-1, -1.5, -2, -2.5, -3, -3.5]}},
                          "y2": {"field": "hi"}}},
            {"data": {"name": "dots"}, "transform": [{"filter": "datum.p == 'z1'"}],
             "mark": {"type": "line", "color": "#0000ff", "strokeDash": [2, 5], "strokeWidth": 2.2, "clip": true, "interpolate": "monotone"},
             "encoding": {"x": {"field": "x", "type": "quantitative", "scale": {"domain": [9.9, 12.07], "nice": false, "zero": false}, "axis": null},
                          "y": {"field": "y", "type": "quantitative", "scale": {"domain": [-3.59, -0.89], "nice": false, "zero": false}, "axis": null},
                          "detail": {"field": "s"}}},
            {"data": {"name": "lines"}, "transform": [{"filter": "datum.p == 'z1'"}],
             "mark": {"type": "line", "strokeWidth": 3.5, "clip": true, "interpolate": "monotone"},
             "encoding": {"x": {"field": "x", "type": "quantitative", "scale": {"domain": [9.9, 12.07], "nice": false, "zero": false}, "axis": {"orient": "bottom", "labels": false, "title": null, "values": [10, 10.25, 10.5, 10.75, 11, 11.25, 11.5, 11.75, 12]}},
                          "y": {"field": "y", "type": "quantitative", "scale": {"domain": [-3.59, -0.89], "nice": false, "zero": false}, "axis": {"orient": "left", "labels": false, "title": null, "values": [-1, -1.5, -2, -2.5, -3, -3.5]}},
                          "color": {"field": "s", "type": "nominal", "scale": {"domain": ["B+13", "Pref RH", "Fiducial"], "range": ["#0000ff", "#000000", "#ff0000"]}, "legend": null},
                          "strokeDash": {"field": "s", "type": "nominal", "scale": {"domain": ["B+13", "Pref RH", "Fiducial"], "range": [[1, 0], [1, 0], [16, 9]]}, "legend": null}}},
            {"data": {"name": "ann"}, "transform": [{"filter": "datum.p == 'z1'"}],
             "mark": {"type": "text", "fontSize": 27, "align": "center", "baseline": "middle", "color": "#000"},
             "encoding": {"x": {"field": "x", "type": "quantitative", "scale": {"domain": [9.9, 12.07], "nice": false, "zero": false}, "axis": null},
                          "y": {"field": "y", "type": "quantitative", "scale": {"domain": [-3.59, -0.89], "nice": false, "zero": false}, "axis": null},
                          "text": {"field": "t"}}},
            {"data": {"name": "title"},
             "mark": {"type": "text", "fontSize": 32, "align": "center", "baseline": "middle", "color": "#000"},
             "encoding": {"x": {"field": "x", "type": "quantitative", "scale": {"domain": [9.9, 12.07], "nice": false, "zero": false}, "axis": null},
                          "y": {"field": "y", "type": "quantitative", "scale": {"domain": [-3.59, -0.89], "nice": false, "zero": false}, "axis": null},
                          "text": {"field": "t"}}}
          ]
        },
        {
          "width": 293, "height": 273,
          "resolve": {"axis": {"x": "independent", "y": "independent"}},
          "layer": [
            {"data": {"name": "bands"}, "transform": [{"filter": "datum.p == 'z2' && datum.s == 'B+13'"}],
             "mark": {"type": "area", "color": "#a3d8f8", "clip": true, "interpolate": "monotone"},
             "encoding": {"x": {"field": "x", "type": "quantitative", "scale": {"domain": [9.9, 12.07], "nice": false, "zero": false}, "axis": null},
                          "y": {"field": "lo", "type": "quantitative", "scale": {"domain": [-3.59, -0.89], "nice": false, "zero": false}, "axis": null},
                          "y2": {"field": "hi"}}},
            {"data": {"name": "bands"}, "transform": [{"filter": "datum.p == 'z2' && datum.s == 'Pref RH'"}],
             "mark": {"type": "area", "color": "#5a5a5a", "opacity": 0.5, "stroke": "#303030", "strokeOpacity": 0.5, "strokeWidth": 1.2, "clip": true, "interpolate": "monotone"},
             "encoding": {"x": {"field": "x", "type": "quantitative", "scale": {"domain": [9.9, 12.07], "nice": false, "zero": false}, "axis": {"orient": "top", "labels": false, "title": null, "values": [10, 10.25, 10.5, 10.75, 11, 11.25, 11.5, 11.75, 12]}},
                          "y": {"field": "lo", "type": "quantitative", "scale": {"domain": [-3.59, -0.89], "nice": false, "zero": false}, "axis": {"orient": "right", "labels": false, "title": null, "values": [-1, -1.5, -2, -2.5, -3, -3.5]}},
                          "y2": {"field": "hi"}}},
            {"data": {"name": "dots"}, "transform": [{"filter": "datum.p == 'z2'"}],
             "mark": {"type": "line", "color": "#0000ff", "strokeDash": [2, 5], "strokeWidth": 2.2, "clip": true, "interpolate": "monotone"},
             "encoding": {"x": {"field": "x", "type": "quantitative", "scale": {"domain": [9.9, 12.07], "nice": false, "zero": false}, "axis": null},
                          "y": {"field": "y", "type": "quantitative", "scale": {"domain": [-3.59, -0.89], "nice": false, "zero": false}, "axis": null},
                          "detail": {"field": "s"}}},
            {"data": {"name": "lines"}, "transform": [{"filter": "datum.p == 'z2'"}],
             "mark": {"type": "line", "strokeWidth": 3.5, "clip": true, "interpolate": "monotone"},
             "encoding": {"x": {"field": "x", "type": "quantitative", "scale": {"domain": [9.9, 12.07], "nice": false, "zero": false}, "axis": {"orient": "bottom", "values": [10, 10.25, 10.5, 10.75, 11, 11.25, 11.5, 11.75, 12], "format": "~g", "labelExpr": "datum.value % 0.5 == 0 ? datum.label : ''", "labelPadding": 16, "title": "log(Mₕ/M☉)", "titlePadding": 6}},
                          "y": {"field": "y", "type": "quantitative", "scale": {"domain": [-3.59, -0.89], "nice": false, "zero": false}, "axis": {"orient": "left", "values": [-1, -1.5, -2, -2.5, -3, -3.5], "format": ".1f", "labelExpr": "replace(datum.label, '−', '-')", "title": "log(M⋆/Mₕ)", "titlePadding": 10}},
                          "color": {"field": "s", "type": "nominal", "scale": {"domain": ["B+13", "Pref RH", "Fiducial"], "range": ["#0000ff", "#000000", "#ff0000"]}, "legend": null},
                          "strokeDash": {"field": "s", "type": "nominal", "scale": {"domain": ["B+13", "Pref RH", "Fiducial"], "range": [[1, 0], [1, 0], [16, 9]]}, "legend": null}}},
            {"data": {"name": "ann"}, "transform": [{"filter": "datum.p == 'z2'"}],
             "mark": {"type": "text", "fontSize": 27, "align": "center", "baseline": "middle", "color": "#000"},
             "encoding": {"x": {"field": "x", "type": "quantitative", "scale": {"domain": [9.9, 12.07], "nice": false, "zero": false}, "axis": null},
                          "y": {"field": "y", "type": "quantitative", "scale": {"domain": [-3.59, -0.89], "nice": false, "zero": false}, "axis": null},
                          "text": {"field": "t"}}}
          ]
        },
        {
          "width": 293, "height": 273,
          "resolve": {"axis": {"x": "independent", "y": "independent"}},
          "layer": [
            {"data": {"name": "bands"}, "transform": [{"filter": "datum.p == 'z3' && datum.s == 'Pref RH'"}],
             "mark": {"type": "area", "color": "#5a5a5a", "opacity": 0.5, "stroke": "#303030", "strokeOpacity": 0.5, "strokeWidth": 1.2, "clip": true, "interpolate": "monotone"},
             "encoding": {"x": {"field": "x", "type": "quantitative", "scale": {"domain": [9.9, 12.07], "nice": false, "zero": false}, "axis": {"orient": "top", "labels": false, "title": null, "values": [10, 10.25, 10.5, 10.75, 11, 11.25, 11.5, 11.75, 12]}},
                          "y": {"field": "lo", "type": "quantitative", "scale": {"domain": [-3.59, -0.89], "nice": false, "zero": false}, "axis": {"orient": "right", "labels": false, "title": null, "values": [-1, -1.5, -2, -2.5, -3, -3.5]}},
                          "y2": {"field": "hi"}}},
            {"data": {"name": "dots"}, "transform": [{"filter": "datum.p == 'z3'"}],
             "mark": {"type": "line", "color": "#0000ff", "strokeDash": [2, 5], "strokeWidth": 2.2, "clip": true, "interpolate": "monotone"},
             "encoding": {"x": {"field": "x", "type": "quantitative", "scale": {"domain": [9.9, 12.07], "nice": false, "zero": false}, "axis": null},
                          "y": {"field": "y", "type": "quantitative", "scale": {"domain": [-3.59, -0.89], "nice": false, "zero": false}, "axis": null},
                          "detail": {"field": "s"}}},
            {"data": {"name": "lines"}, "transform": [{"filter": "datum.p == 'z3'"}],
             "mark": {"type": "line", "strokeWidth": 3.5, "clip": true, "interpolate": "monotone"},
             "encoding": {"x": {"field": "x", "type": "quantitative", "scale": {"domain": [9.9, 12.07], "nice": false, "zero": false}, "axis": {"orient": "bottom", "values": [10, 10.25, 10.5, 10.75, 11, 11.25, 11.5, 11.75, 12], "format": "~g", "labelExpr": "datum.value % 0.5 == 0 ? datum.label : ''", "labelPadding": 16, "title": "log(Mₕ/M☉)", "titlePadding": 6}},
                          "y": {"field": "y", "type": "quantitative", "scale": {"domain": [-3.59, -0.89], "nice": false, "zero": false}, "axis": {"orient": "left", "labels": false, "title": null, "values": [-1, -1.5, -2, -2.5, -3, -3.5]}},
                          "color": {"field": "s", "type": "nominal", "scale": {"domain": ["B+13", "Pref RH", "Fiducial"], "range": ["#0000ff", "#000000", "#ff0000"]},
                                    "legend": {"title": null, "orient": "top-left", "offset": 17, "padding": 0, "symbolType": "M-0.25,0H5.75", "symbolSize": 256, "symbolStrokeWidth": 4, "labelOffset": 57, "rowPadding": 4, "labelFontSize": 20}},
                          "strokeDash": {"field": "s", "type": "nominal", "scale": {"domain": ["B+13", "Pref RH", "Fiducial"], "range": [[1, 0], [1, 0], [16, 9]]},
                                    "legend": {"title": null, "orient": "top-left", "offset": 17, "padding": 0, "symbolType": "M-0.25,0H5.75", "symbolSize": 256, "symbolStrokeWidth": 4, "labelOffset": 57, "rowPadding": 4, "labelFontSize": 20}}}},
            {"data": {"name": "ann"}, "transform": [{"filter": "datum.p == 'z3'"}],
             "mark": {"type": "text", "fontSize": 27, "align": "center", "baseline": "middle", "color": "#000"},
             "encoding": {"x": {"field": "x", "type": "quantitative", "scale": {"domain": [9.9, 12.07], "nice": false, "zero": false}, "axis": null},
                          "y": {"field": "y", "type": "quantitative", "scale": {"domain": [-3.59, -0.89], "nice": false, "zero": false}, "axis": null},
                          "text": {"field": "t"}}}
          ]
        }
      ]
    },
    {
      "width": 440, "height": 546,
      "resolve": {"axis": {"x": "independent", "y": "independent"}},
      "layer": [
        {"data": {"name": "zb"}, "transform": [{"filter": "datum.m == 'logMₕ=10.0' && datum.s == 'Behroozi+ 13'"}],
         "mark": {"type": "area", "color": "#9fd6f8", "clip": true, "interpolate": "monotone"},
         "encoding": {"x": {"field": "z", "type": "quantitative", "scale": {"domain": [0, 3], "nice": false, "zero": false}, "axis": {"orient": "bottom", "values": [0, 0.5, 1, 1.5, 2, 2.5, 3], "format": ".1f", "labelFontSize": 21, "labelPadding": 16, "title": "Redshift", "titleFontSize": 20, "titlePadding": 6}},
                      "y": {"field": "lo", "type": "quantitative", "scale": {"domain": [-4.7, -1.488], "nice": false, "zero": false}, "axis": {"orient": "right", "values": [-1.5, -2, -2.5, -3, -3.5, -4, -4.5], "format": ".1f", "labelExpr": "replace(datum.label, '−', '-')", "labelFontSize": 21, "labelPadding": 15, "title": "log(M⋆/Mₕ)", "titleFontSize": 21, "titlePadding": 10}},
                      "y2": {"field": "hi"}}},
        {"data": {"name": "zb"}, "transform": [{"filter": "datum.m == 'logMₕ=11.0' && datum.s == 'Behroozi+ 13'"}],
         "mark": {"type": "area", "color": "#96f838", "clip": true, "interpolate": "monotone"},
         "encoding": {"x": {"field": "z", "type": "quantitative", "scale": {"domain": [0, 3], "nice": false, "zero": false}, "axis": {"orient": "top", "labels": false, "title": null, "values": [0.5, 1, 1.5, 2, 2.5], "tickSize": -8}},
                      "y": {"field": "lo", "type": "quantitative", "scale": {"domain": [-4.7, -1.488], "nice": false, "zero": false}, "axis": null},
                      "y2": {"field": "hi"}}},
        {"data": {"name": "zl"}, "transform": [{"filter": "datum.s == 'Behroozi+ 13'"}],
         "mark": {"type": "line", "strokeWidth": 3.5, "clip": true, "interpolate": "monotone"},
         "encoding": {"x": {"field": "z", "type": "quantitative", "scale": {"domain": [0, 3], "nice": false, "zero": false}, "axis": null},
                      "y": {"field": "y", "type": "quantitative", "scale": {"domain": [-4.7, -1.488], "nice": false, "zero": false}, "axis": null},
                      "color": {"field": "m", "type": "nominal", "scale": {"domain": ["logMₕ=10.0", "logMₕ=11.0"], "range": ["#0000ff", "#008000"]},
                                "legend": {"title": null, "orient": "top-left", "offset": 18, "padding": 0, "symbolType": "square", "symbolSize": 324, "symbolOffset": -4, "labelOffset": 10, "rowPadding": 2, "labelFontSize": 21}},
                      "detail": {"field": "m"}}},
        {"data": {"name": "zb"}, "transform": [{"filter": "datum.s == 'Pref RH'"}],
         "mark": {"type": "area", "color": "#5a5a5a", "opacity": 0.5, "stroke": "#303030", "strokeOpacity": 0.55, "strokeWidth": 1.5, "clip": true, "interpolate": "monotone"},
         "encoding": {"x": {"field": "z", "type": "quantitative", "scale": {"domain": [0, 3], "nice": false, "zero": false}, "axis": null},
                      "y": {"field": "lo", "type": "quantitative", "scale": {"domain": [-4.7, -1.488], "nice": false, "zero": false}, "axis": null},
                      "y2": {"field": "hi"},
                      "detail": {"field": "m"}}},
        {"data": {"name": "zl"}, "transform": [{"filter": "datum.s == 'Pref RH'"}],
         "mark": {"type": "line", "strokeWidth": 3.5, "strokeDash": [13, 8], "clip": true, "interpolate": "monotone"},
         "encoding": {"x": {"field": "z", "type": "quantitative", "scale": {"domain": [0, 3], "nice": false, "zero": false}, "axis": null},
                      "y": {"field": "y", "type": "quantitative", "scale": {"domain": [-4.7, -1.488], "nice": false, "zero": false}, "axis": null},
                      "color": {"field": "m", "type": "nominal", "scale": {"domain": ["logMₕ=10.0", "logMₕ=11.0"], "range": ["#0000ff", "#008000"]}}}},
        {"data": {"name": "zf"},
         "mark": {"type": "point", "filled": true, "shape": "triangle-left", "size": 55, "opacity": 1, "clip": true},
         "encoding": {"x": {"field": "z", "type": "quantitative", "scale": {"domain": [0, 3], "nice": false, "zero": false}, "axis": null},
                      "y": {"field": "y", "type": "quantitative", "scale": {"domain": [-4.7, -1.488], "nice": false, "zero": false}, "axis": null},
                      "color": {"field": "m", "type": "nominal", "scale": {"domain": ["logMₕ=10.0", "logMₕ=11.0"], "range": ["#0000ff", "#008000"]}}}},
        {"data": {"name": "zl"},
         "mark": {"type": "point", "filled": true, "size": 0, "color": "#000000", "clip": true},
         "encoding": {"x": {"field": "z", "type": "quantitative", "scale": {"domain": [0, 3], "nice": false, "zero": false}, "axis": null},
                      "y": {"field": "y", "type": "quantitative", "scale": {"domain": [-4.7, -1.488], "nice": false, "zero": false}, "axis": null},
                      "shape": {"field": "s", "type": "nominal",
                                "scale": {"domain": ["Pref RH", "Fiducial", "Behroozi+ 13"],
                                          "range": ["M-0.8,-0.5H2V0.5H-0.8Z M5.2,-0.5H7.6V0.5H5.2Z", "M-1.3,0L0.3,-0.8L0.3,0.8Z M1.1,0L2.7,-0.8L2.7,0.8Z M3.5,0L5.1,-0.8L5.1,0.8Z M5.9,0L7.5,-0.8L7.5,0.8Z M8.3,0L9.9,-0.8L9.9,0.8Z", "M-1.2,-0.5H9.8V0.5H-1.2Z"]},
                                "legend": {"title": null, "orient": "bottom-left", "offset": 14, "padding": 0, "symbolSize": 100, "symbolStrokeWidth": 0, "symbolFillColor": "#000000", "labelOffset": 60, "rowPadding": 1, "labelFontSize": 21}}}}
      ]
    }
  ]
}
